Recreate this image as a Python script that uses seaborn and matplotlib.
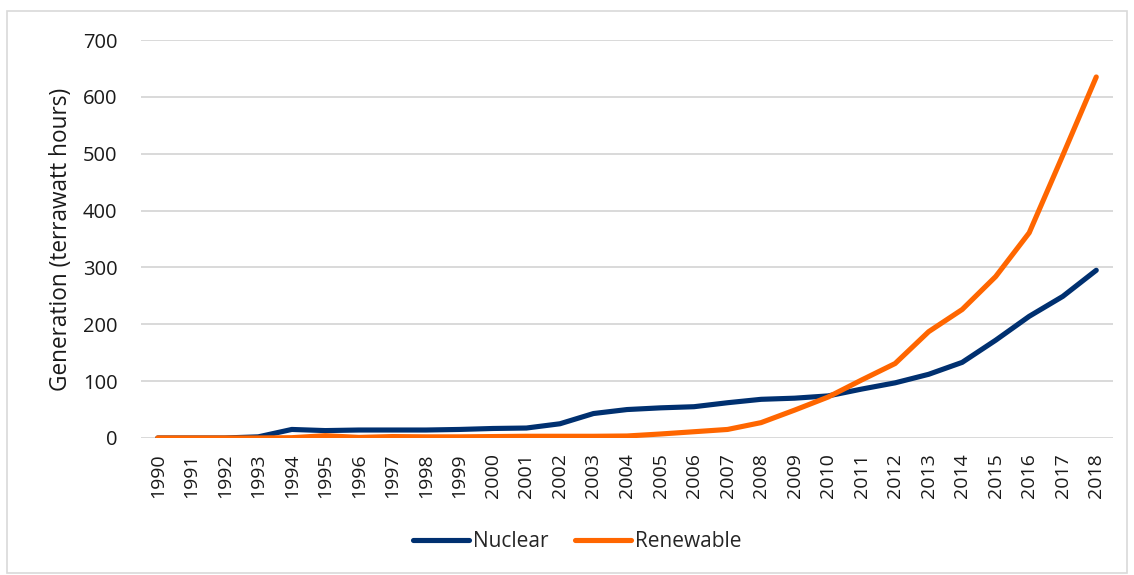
import matplotlib
matplotlib.use("Agg")
import matplotlib.pyplot as plt
import seaborn as sns
import pandas as pd
from matplotlib.patches import Rectangle

years = list(range(1990, 2019))
nuclear = [0, 0, 0, 2, 15, 13, 14, 14, 14, 15, 16.7, 17.5, 25, 43, 50, 53, 55, 62,
           68, 70, 74, 86, 97, 112, 133, 172, 214, 249, 295]
renewable = [0, 0, 0, 0, 0.5, 4, 1, 2.5, 2, 2, 2.5, 3, 3, 3, 3.5, 7, 11, 15,
             27, 49, 72, 102, 131, 187, 226, 284, 361, 497, 635]
series_names = ["Nuclear", "Renewable"]
colors = ["#003070", "#FF6600"]
y_ticks = [0, 100, 200, 300, 400, 500, 600, 700]

df = pd.DataFrame({
    "Year": years * 2,
    "Generation": nuclear + renewable,
    "Source": [series_names[0]] * len(years) + [series_names[1]] * len(years),
})

sns.set_theme(style="white")
plt.rcParams["font.family"] = ["Open Sans", "DejaVu Sans"]

fig = plt.figure(figsize=(11.34, 5.75), dpi=100)
ax = fig.add_axes([0.1243, 0.2383, 0.8572, 0.6921])

sns.lineplot(data=df, x="Year", y="Generation", hue="Source",
             palette=colors, linewidth=3.7, ax=ax, legend=True,
             solid_capstyle="round")

ax.set_xlim(1989.5, 2018.5)
ax.set_ylim(0, 700)
ax.set_yticks(y_ticks)
ax.set_yticklabels([str(v) for v in y_ticks], fontsize=14.5, color="#1a1a1a")
ax.set_xticks(years)
ax.set_xticklabels([str(y) for y in years], rotation=90, fontsize=14, color="#1a1a1a")
ax.tick_params(axis="both", length=0)
ax.tick_params(axis="y", pad=17)
ax.tick_params(axis="x", pad=11)
ax.set_xlabel("")
ax.set_ylabel("Generation (terrawatt hours)", fontsize=16.3, color="#1a1a1a", labelpad=7)
ax.yaxis.grid(True, color="#D9D9D9", linewidth=1.4)
ax.set_axisbelow(True)
for s in ax.spines.values():
    s.set_visible(False)

handles, labels = ax.get_legend_handles_labels()
ax.legend(handles, labels, loc="center", bbox_to_anchor=(0.509, 0.0574),
          bbox_transform=fig.transFigure, ncol=2, frameon=False,
          fontsize=15, handlelength=2.7, columnspacing=1.25, handletextpad=0.2)

fig.patches.append(Rectangle((0.0062, 0.003), 0.988, 0.978, transform=fig.transFigure,
                             fill=False, edgecolor="#D9D9D9", linewidth=1.2))

fig.savefig("out.png", dpi=100)
